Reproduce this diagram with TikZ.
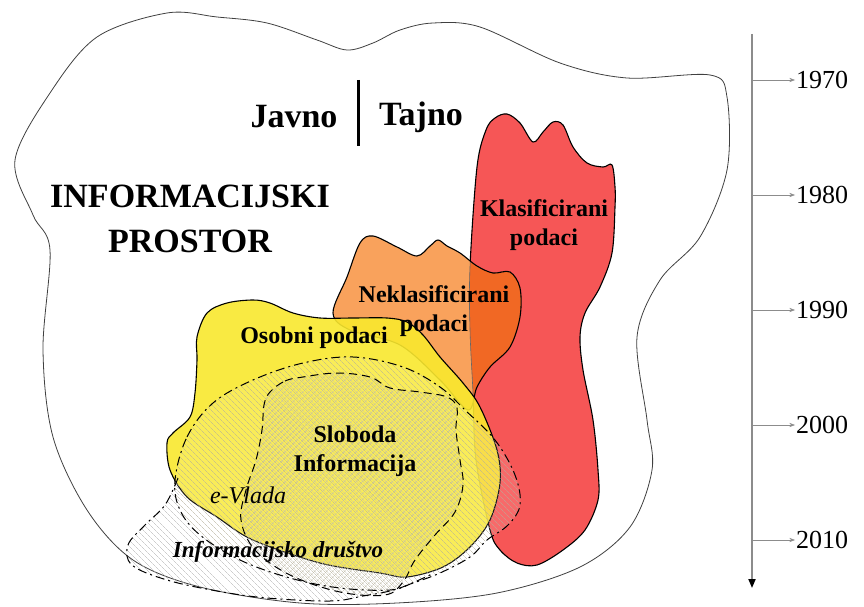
\documentclass[tikz,border=0pt]{standalone}
\usepackage{fontspec}
\setmainfont{Liberation Serif}
\usetikzlibrary{arrows.meta, patterns.meta}

\definecolor{klasred}{RGB}{246,86,86}
\definecolor{neklasorange}{RGB}{249,162,92}
\definecolor{overlaporange}{RGB}{241,104,36}
\definecolor{osobniyellow}{RGB}{249,232,46}
\definecolor{hatchgray}{RGB}{120,110,70}
\definecolor{axisgray}{RGB}{140,140,140}

% outlines of the areas
\newcommand{\outerpath}{plot[smooth cycle, tension=0.55] coordinates {
  (15,160) (50,93) (97,37) (167,13) (217,17) (267,23) (317,40) (347,50)
  (373,43) (400,30) (433,23) (480,27) (560,63) (627,78) (710,75) (727,97)
  (727,170) (700,237) (660,280) (637,337) (647,420) (652,470) (630,527)
  (580,567) (497,593) (397,603) (300,603) (200,587) (133,560) (87,510)
  (53,437) (43,350) (50,250) (33,215)}}
\newcommand{\redpath}{plot[smooth cycle, tension=0.55] coordinates {
  (476,460) (473,393) (470,330) (470,267) (477,167) (486,130) (495,118)
  (507,114) (520,123) (533,142) (543,132) (553,122) (563,125) (573,147)
  (587,163) (603,167) (612,165) (615,187) (615,207) (612,253) (600,287)
  (585,313) (580,337) (583,370) (593,420) (598,470) (598,500) (585,530)
  (563,550) (537,565) (517,563) (500,550) (490,530)}}
\newcommand{\orangepath}{plot[smooth cycle, tension=0.55] coordinates {
  (333,313) (347,277) (360,243) (373,236) (397,247) (417,256) (430,246)
  (438,240) (447,246) (460,253) (477,266) (493,273) (510,272) (520,288)
  (520,317) (510,347) (490,367) (477,387) (468,410) (440,380) (400,345)
  (350,330)}}
\newcommand{\yellowpath}{plot[smooth cycle, tension=0.55] coordinates {
  (197,337) (207,313) (227,303) (253,300) (270,303) (293,313) (320,318)
  (353,318) (387,318) (407,322) (423,335) (440,357) (463,383) (480,407)
  (497,450) (500,483) (490,520) (470,547) (443,567) (407,577) (380,573)
  (320,563) (253,540) (217,517) (187,497) (170,470) (167,443) (173,433)
  (190,417) (195,393) (197,360)}}
\newcommand{\vladapath}{plot[smooth cycle, tension=0.6] coordinates {
  (175,480) (187,437) (213,403) (253,380) (303,363) (353,357) (403,367)
  (440,387) (465,410) (495,440) (515,475) (520,505) (508,525) (487,540)
  (470,557) (440,573) (413,583) (390,590) (340,588) (290,578) (240,560)
  (200,535) (180,510)}}
\newcommand{\slobodapath}{plot[smooth cycle, tension=0.6] coordinates {
  (270,392) (285,381) (303,377) (337,373) (370,377) (390,388) (420,392)
  (447,397) (457,408) (456,430) (460,460) (463,485) (455,512) (435,535)
  (415,560) (403,582) (385,595) (340,592) (290,575) (255,550) (241,520)
  (246,490) (256,460) (262,430) (264,405)}}
\newcommand{\drustvoouter}{plot[smooth, tension=0.6] coordinates {
  (178,478) (165,505) (145,525) (128,545) (132,565) (167,580) (217,591)
  (267,598) (330,601) (363,596) (397,589) (432,574)}}

\begin{document}
\begin{tikzpicture}[
    x=1pt, y=-1pt,
    >=Stealth,
    blob/.style={draw=black, line width=1.1pt},
    dashdot/.style={line width=1pt, dash pattern=on 9pt off 4pt on 2pt off 4pt},
    dashline/.style={line width=1pt, dash pattern=on 8pt off 5pt},
    title/.style={font=\fontsize{34}{45}\selectfont\bfseries, align=center},
    area/.style={font=\fontsize{24}{29}\selectfont\bfseries, align=center},
    year/.style={font=\fontsize{26}{30}\selectfont, anchor=west, inner sep=1pt}
  ]

  \useasboundingbox (0,0) rectangle (864,607);

  % Informacijski prostor
  \draw[black!75, line width=0.8pt, fill=white] \outerpath;

  % Informacijsko drustvo (bottom band)
  \fill[pattern={Lines[angle=-45, distance=4pt, line width=0.4pt]}, pattern color=black!30]
    plot[smooth, tension=0.6] coordinates {(178,478) (165,505) (145,525) (128,545)
      (132,565) (167,580) (217,591) (267,598) (330,601) (363,596) (397,589) (432,574)}
    -- plot[smooth, tension=0.6] coordinates {(413,583) (390,590) (340,588) (290,578)
      (240,560) (200,535) (180,510)} -- cycle;

  % Klasificirani podaci
  \fill[klasred] \redpath;
  \draw[blob] \redpath;

  % Neklasificirani podaci
  \fill[neklasorange] \orangepath;
  \begin{scope}
    \clip \redpath;
    \fill[overlaporange] \orangepath;
  \end{scope}
  \begin{scope}
    \clip \orangepath;
    \draw[black!60, line width=0.6pt] \redpath;
  \end{scope}
  \draw[blob] \orangepath;

  % Osobni podaci
  \fill[osobniyellow, opacity=0.9] \yellowpath;
  \draw[blob] \yellowpath;

  % e-Vlada
  \fill[white, opacity=0.12] \vladapath;
  \fill[pattern={Lines[angle=-45, distance=4pt, line width=0.4pt]}, pattern color=hatchgray!55] \vladapath;

  % Sloboda informacija
  \fill[pattern={Hatch[angle=45, distance=4pt, line width=0.3pt]}, pattern color=hatchgray!45] \slobodapath;

  % dashed outlines
  \draw[dashdot] \vladapath;
  \draw[dashdot] \drustvoouter;
  \draw[dashline] \slobodapath;

  % texts
  \node[title] (javno) at (294,117) {Javno};
  \node[title] (tajno) at (421,117) {Tajno};
  \draw[line width=3pt] (358,80) -- (358,146);
  \node[title] (prostor) at (190,219) {INFORMACIJSKI\\PROSTOR};
  \node[area] (klas) at (544,225) {Klasificirani\\podaci};
  \node[area] (neklas) at (434,311) {Neklasificirani\\podaci};
  \node[area] (osobni) at (314,338) {Osobni podaci};
  \node[area] (sloboda) at (355,451) {Sloboda\\Informacija};
  \node[font=\fontsize{24}{29}\selectfont\itshape] (vlada) at (248,495) {e-Vlada};
  \node[font=\fontsize{23}{28}\selectfont\bfseries\itshape] (drustvo) at (278,552) {Informacijsko društvo};

  % timeline
  \coordinate (axtop) at (752,34);
  \coordinate (axbot) at (752,588);
  \draw[axisgray, line width=1.8pt, -{Triangle[color=black, length=9pt, width=7pt]}] (axtop) -- (axbot);
  \foreach \yr/\ypos in {1970/80, 1980/195, 1990/310, 2000/425, 2010/540} {
    \coordinate (tick\yr) at (752,\ypos);
    \node[year] (year\yr) at (795,\ypos) {\yr};
    \draw[->, axisgray, line width=0.6pt] (tick\yr) -- (year\yr.west);
  }

\end{tikzpicture}
\end{document}
